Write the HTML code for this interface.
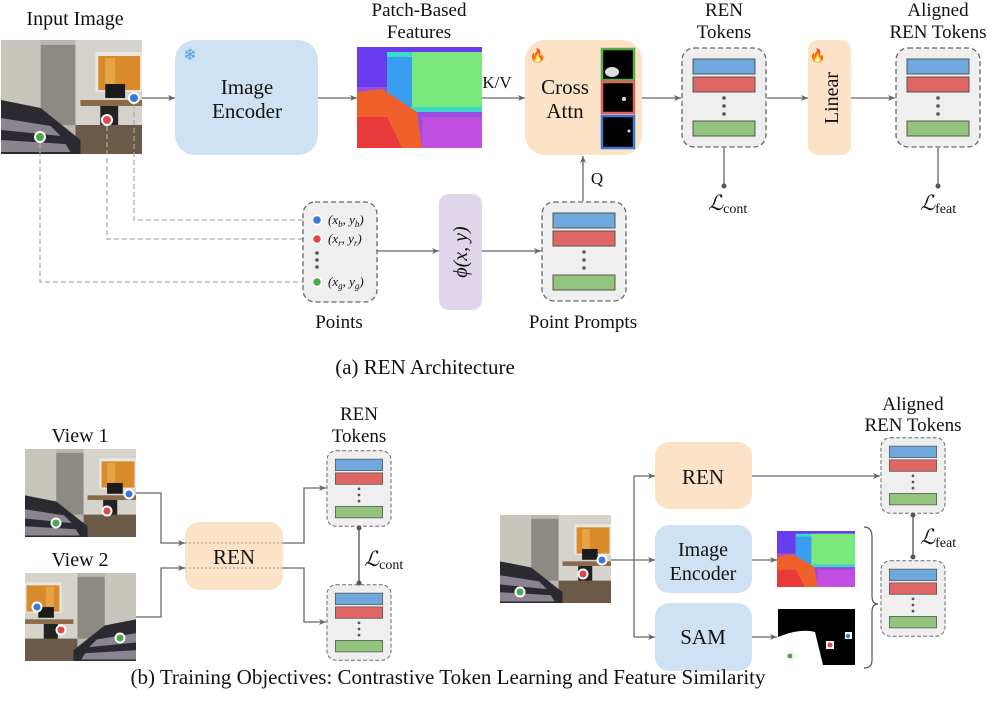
<!DOCTYPE html>
<html><head><meta charset="utf-8"><style>
html,body{margin:0;padding:0;background:#fff}
svg{display:block}
svg text{font-family:"Liberation Serif","DejaVu Serif",serif !important;fill:#111}
</style></head><body>
<svg width="997" height="718" viewBox="0 0 997 718" xmlns="http://www.w3.org/2000/svg" font-family="Liberation Serif, serif">
<defs>
<marker id="ar" markerWidth="8" markerHeight="8" refX="7" refY="4" orient="auto" markerUnits="userSpaceOnUse"><path d="M0,1 L7,4 L0,7 L2,4z" fill="#666"/></marker>
<symbol id="room" viewBox="0 0 142 114" preserveAspectRatio="none">
<rect width="142" height="114" fill="#b9b6ae"/>
<rect x="0" y="0" width="40" height="114" fill="#c8c5bd"/>
<rect x="40" y="5" width="35" height="80" fill="#8d8a84"/>
<rect x="75" y="0" width="67" height="114" fill="#d6d3cc"/>
<rect x="95" y="12" width="47" height="40" fill="#e8e6e2"/>
<rect x="98" y="16" width="42" height="34" fill="#d98a2a"/>
<rect x="105" y="18" width="10" height="28" fill="#e6a447"/>
<rect x="80" y="60" width="62" height="6" fill="#8a6a4a"/>
<rect x="105" y="44" width="20" height="14" fill="#1b1b1b"/>
<rect x="100" y="66" width="18" height="30" fill="#222"/>
<rect x="75" y="85" width="67" height="29" fill="#6c5a48"/>
<polygon points="0,60 40,68 80,100 80,114 0,114" fill="#2a2a30"/>
<polygon points="0,78 50,86 60,96 0,90" fill="#8c8390"/>
<polygon points="0,100 65,104 70,112 0,112" fill="#8c8390"/>
</symbol>
<symbol id="feat" viewBox="0 0 125 101" preserveAspectRatio="none">
<rect width="125" height="101" fill="#9a4de0"/>
<rect x="0" y="0" width="125" height="40" fill="#6a3cf0"/>
<rect x="30" y="5" width="95" height="60" fill="#3cd8c8"/>
<rect x="55" y="5" width="70" height="55" fill="#7ae87a"/>
<rect x="30" y="10" width="25" height="50" fill="#3a9ef0"/>
<polygon points="0,45 25,42 60,65 65,101 0,101" fill="#f0602a"/>
<polygon points="0,70 30,70 45,101 0,101" fill="#e83a3a"/>
<rect x="65" y="70" width="60" height="31" fill="#c04ee0"/>
</symbol>
<symbol id="tok" viewBox="0 0 86 101">
<rect x="1" y="1" width="84" height="99" rx="12" fill="#efefef" stroke="#666" stroke-dasharray="5,3" stroke-width="1.3"/>
<rect x="12" y="12" width="62" height="15" fill="#6fa8dc" stroke="#555"/>
<rect x="12" y="30" width="62" height="15" fill="#e06666" stroke="#555"/>
<circle cx="43" cy="51" r="1.8" fill="#555"/><circle cx="43" cy="59" r="1.8" fill="#555"/><circle cx="43" cy="67" r="1.8" fill="#555"/>
<rect x="12" y="74" width="62" height="15" fill="#93c47d" stroke="#555"/>
</symbol>
</defs>

<text x="75" y="25" font-size="20" text-anchor="middle">Input Image</text>
<use href="#room" x="1" y="40" width="141" height="114"/>
<g stroke="#fff" stroke-width="2"><circle cx="134" cy="98" r="5" fill="#3a78d8"/><circle cx="107" cy="120" r="5" fill="#e04848"/><circle cx="40" cy="137" r="5" fill="#4aa84a"/></g>

<g fill="none" stroke="#aaa" stroke-width="1.2" stroke-dasharray="5,3">
<path d="M134,104 V220 H310"/><path d="M107,126 V239 H310"/><path d="M40,143 V282 H310"/>
</g>

<g stroke="#666" stroke-width="1.3" fill="none" marker-end="url(#ar)">
<path d="M142,98 H175"/><path d="M318,98 H357"/><path d="M482,98 H525"/><path d="M642,98 H681"/><path d="M767,98 H808"/><path d="M851,98 H895"/>
<path d="M377,251 H439"/><path d="M482,251 H541"/><path d="M583,201 V156"/>
</g>

<rect x="175" y="40" width="143" height="115" rx="20" fill="#cfe2f3"/>
<text x="190" y="60" font-size="16" style="fill:#4aa0e0" text-anchor="middle">❄</text>
<text x="247" y="94" font-size="21" text-anchor="middle">Image</text>
<text x="247" y="118" font-size="21" text-anchor="middle">Encoder</text>

<text x="419" y="16" font-size="19" text-anchor="middle">Patch-Based</text>
<text x="419" y="38" font-size="19" text-anchor="middle">Features</text>
<use href="#feat" x="357" y="47" width="125" height="101"/>
<text x="497" y="88" font-size="17" text-anchor="middle">K/V</text>

<rect x="525" y="40" width="117" height="115" rx="20" fill="#fce3c8"/>
<text x="538" y="60" font-size="13" text-anchor="middle">🔥</text>
<text x="565" y="94" font-size="21" text-anchor="middle">Cross</text>
<text x="565" y="118" font-size="21" text-anchor="middle">Attn</text>
<rect x="602" y="49" width="32" height="31" fill="#000" stroke="#5aa84a" stroke-width="2.5"/>
<ellipse cx="612" cy="72" rx="7" ry="5" fill="#ddd"/>
<rect x="602" y="82" width="32" height="31" fill="#000" stroke="#e06060" stroke-width="2.5"/>
<circle cx="624" cy="99" r="2" fill="#ddd"/>
<rect x="602" y="116" width="32" height="32" fill="#000" stroke="#3a78d8" stroke-width="2.5"/>
<circle cx="629" cy="131" r="1.5" fill="#ddd"/>

<text x="724" y="16" font-size="19" text-anchor="middle">REN</text>
<text x="724" y="38" font-size="19" text-anchor="middle">Tokens</text>
<use href="#tok" x="681" y="47" width="86" height="101"/>
<path d="M724,148 V186" stroke="#666" stroke-width="1.3"/><circle cx="724" cy="186" r="2.5" fill="#555"/>
<text x="708" y="210" font-size="21" font-style="italic">ℒ<tspan font-size="14" font-style="normal" dy="3">cont</tspan></text>

<rect x="808" y="40" width="43" height="115" rx="10" fill="#fce3c8"/>
<text x="818" y="60" font-size="13" text-anchor="middle">🔥</text>
<text transform="translate(838,98) rotate(-90)" font-size="20" text-anchor="middle">Linear</text>

<text x="938" y="16" font-size="19" text-anchor="middle">Aligned</text>
<text x="938" y="38" font-size="19" text-anchor="middle">REN Tokens</text>
<use href="#tok" x="895" y="47" width="86" height="101"/>
<path d="M938,148 V186" stroke="#666" stroke-width="1.3"/><circle cx="938" cy="186" r="2.5" fill="#555"/>
<text x="920" y="210" font-size="21" font-style="italic">ℒ<tspan font-size="14" font-style="normal" dy="3">feat</tspan></text>

<rect x="303" y="202" width="74" height="100" rx="12" fill="#efefef" stroke="#666" stroke-dasharray="5,3" stroke-width="1.3"/>
<g stroke="#fff" stroke-width="1.5"><circle cx="317" cy="220" r="4.5" fill="#3a78d8"/><circle cx="317" cy="239" r="4.5" fill="#e04848"/><circle cx="317" cy="282" r="4.5" fill="#4aa84a"/></g>
<circle cx="317" cy="253" r="1.8" fill="#555"/><circle cx="317" cy="260" r="1.8" fill="#555"/><circle cx="317" cy="267" r="1.8" fill="#555"/>
<g font-size="13" font-style="italic"><text x="328" y="224">(x<tspan font-size="9" dy="3">b</tspan><tspan dy="-3">, y</tspan><tspan font-size="9" dy="3">b</tspan><tspan dy="-3">)</tspan></text>
<text x="328" y="243">(x<tspan font-size="9" dy="3">r</tspan><tspan dy="-3">, y</tspan><tspan font-size="9" dy="3">r</tspan><tspan dy="-3">)</tspan></text>
<text x="328" y="286">(x<tspan font-size="9" dy="3">g</tspan><tspan dy="-3">, y</tspan><tspan font-size="9" dy="3">g</tspan><tspan dy="-3">)</tspan></text></g>
<text x="339" y="328" font-size="19" text-anchor="middle">Points</text>

<rect x="439" y="194" width="43" height="116" rx="10" fill="#e0d6ec"/>
<text transform="translate(467,252) rotate(-90)" font-size="20" font-style="italic" text-anchor="middle">ϕ(x, y)</text>

<use href="#tok" x="541" y="201" width="86" height="101"/>
<text x="597" y="184" font-size="17" text-anchor="middle">Q</text>
<text x="583" y="328" font-size="19" text-anchor="middle">Point Prompts</text>

<text x="425" y="374" font-size="21" text-anchor="middle">(a)  REN Architecture</text>

<text x="80" y="442" font-size="20" text-anchor="middle">View 1</text>
<use href="#room" x="25" y="449" width="111" height="88"/>
<g stroke="#fff" stroke-width="2"><circle cx="129" cy="494" r="4.5" fill="#3a78d8"/><circle cx="107" cy="511" r="4.5" fill="#e04848"/><circle cx="56" cy="523" r="4.5" fill="#4aa84a"/></g>
<text x="80" y="566" font-size="20" text-anchor="middle">View 2</text>
<g transform="translate(161,0) scale(-1,1)"><use href="#room" x="25" y="573" width="111" height="88"/></g>
<g stroke="#fff" stroke-width="2"><circle cx="37" cy="607" r="4.5" fill="#3a78d8"/><circle cx="61" cy="630" r="4.5" fill="#e04848"/><circle cx="120" cy="638" r="4.5" fill="#4aa84a"/></g>

<rect x="185" y="522" width="98" height="68" rx="14" fill="#fce3c8"/>
<path d="M185,543 H283 M185,568 H283" stroke="#999" stroke-width="1" stroke-dasharray="2,2"/>
<text x="234" y="564" font-size="21" text-anchor="middle">REN</text>
<g stroke="#666" stroke-width="1.3" fill="none" marker-end="url(#ar)">
<path d="M136,493 H161 V543 H185"/><path d="M136,617 H161 V568 H185"/>
<path d="M283,543 H304 V488 H326"/><path d="M283,568 H304 V622 H326"/>
</g>
<text x="359" y="420" font-size="19" text-anchor="middle">REN</text>
<text x="359" y="442" font-size="19" text-anchor="middle">Tokens</text>
<use href="#tok" x="326" y="450" width="66" height="77"/>
<use href="#tok" x="326" y="584" width="66" height="77"/>
<path d="M359,527 V584" stroke="#666" stroke-width="1.5"/><circle cx="359" cy="528" r="2.5" fill="#555"/><circle cx="359" cy="583" r="2.5" fill="#555"/>
<text x="364" y="566" font-size="21" font-style="italic">ℒ<tspan font-size="14" font-style="normal" dy="3">cont</tspan></text>

<use href="#room" x="500" y="515" width="111" height="88"/>
<g stroke="#fff" stroke-width="2"><circle cx="602" cy="560" r="4.5" fill="#3a78d8"/><circle cx="583" cy="574" r="4.5" fill="#e04848"/><circle cx="520" cy="592" r="4.5" fill="#4aa84a"/></g>
<path d="M611,560 H634 M634,476 V637" stroke="#666" stroke-width="1.3" fill="none"/>
<g stroke="#666" stroke-width="1.3" fill="none" marker-end="url(#ar)">
<path d="M634,476 H655"/><path d="M634,560 H655"/><path d="M634,637 H655"/>
<path d="M752,476 H880"/><path d="M752,560 H777"/><path d="M752,637 H777"/>
</g>
<rect x="655" y="442" width="97" height="67" rx="14" fill="#fce3c8"/>
<text x="703" y="484" font-size="21" text-anchor="middle">REN</text>
<rect x="655" y="525" width="97" height="68" rx="14" fill="#cfe2f3"/>
<text x="703" y="556" font-size="20" text-anchor="middle">Image</text>
<text x="703" y="580" font-size="20" text-anchor="middle">Encoder</text>
<rect x="655" y="603" width="97" height="68" rx="14" fill="#cfe2f3"/>
<text x="703" y="644" font-size="21" text-anchor="middle">SAM</text>
<use href="#feat" x="777" y="531" width="78" height="56"/>
<rect x="778" y="609" width="77" height="56" fill="#000"/>
<path d="M778,637 Q800,628 815,632 L823,665 H778z" fill="#fff"/>
<circle cx="790" cy="656" r="2.5" fill="#4aa84a"/>
<rect x="826" y="641" width="8" height="8" fill="#fff"/><circle cx="830" cy="645" r="2.5" fill="#e04848"/>
<rect x="845" y="632" width="7" height="7" fill="#fff"/><circle cx="848" cy="636" r="2.2" fill="#3a78d8"/>
<path d="M864,527 Q872,527 872,537 V596 Q872,604 878,604 Q872,604 872,612 V660 Q872,668 864,668" stroke="#555" stroke-width="1.2" fill="none"/>

<text x="913" y="410" font-size="19" text-anchor="middle">Aligned</text>
<text x="913" y="431" font-size="19" text-anchor="middle">REN Tokens</text>
<use href="#tok" x="880" y="437" width="66" height="77"/>
<use href="#tok" x="880" y="560" width="66" height="77"/>
<path d="M913,514 V558" stroke="#666" stroke-width="1.5"/><circle cx="913" cy="515" r="2.5" fill="#555"/><circle cx="913" cy="557" r="2.5" fill="#555"/>
<text x="920" y="544" font-size="21" font-style="italic">ℒ<tspan font-size="14" font-style="normal" dy="3">feat</tspan></text>

<text x="448" y="684" font-size="21" text-anchor="middle">(b)  Training Objectives: Contrastive Token Learning and Feature Similarity</text>
</svg>
</body></html>
